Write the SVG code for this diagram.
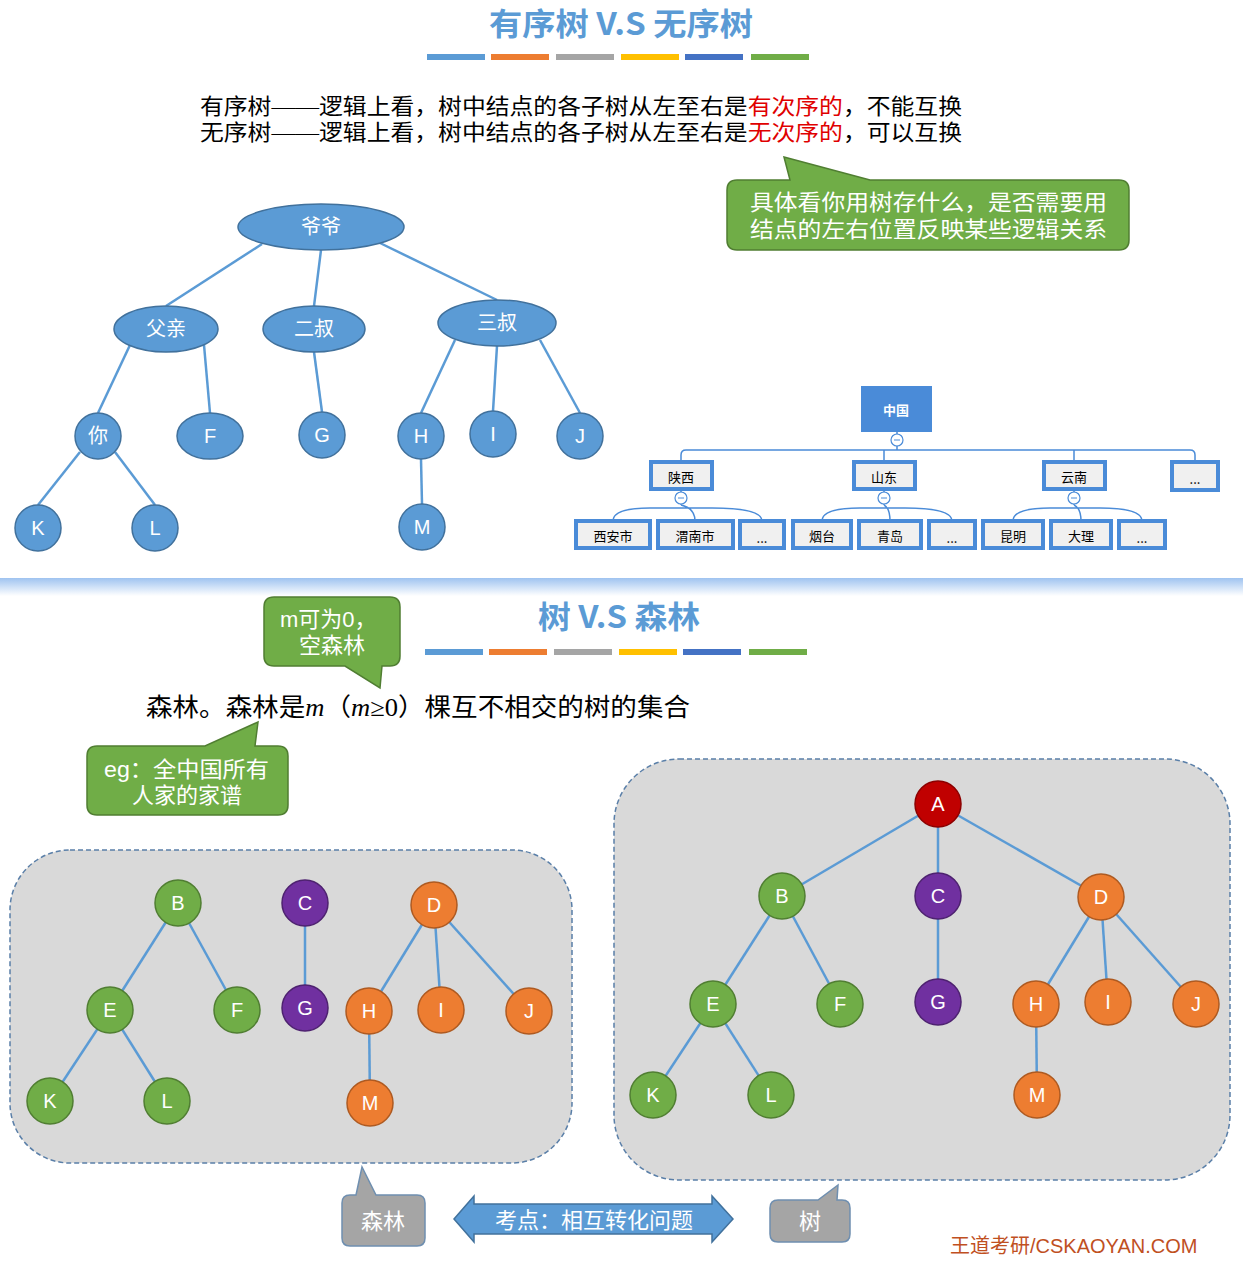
<svg xmlns="http://www.w3.org/2000/svg" width="1243" height="1264" viewBox="0 0 1243 1264">
<defs>
<linearGradient id="sep" x1="0" y1="0" x2="0" y2="1"><stop offset="0" stop-color="#9fc3f0"/><stop offset="1" stop-color="#ffffff"/></linearGradient>
<style>
.t{font-family:"Liberation Sans","Noto Sans CJK SC",sans-serif}
.s{font-family:"Liberation Serif","Noto Sans CJK SC",serif}
.title{font-family:"Noto Sans CJK SC",sans-serif;font-weight:bold;fill:#5b9bd5;font-size:31px;text-anchor:middle}
.e line{stroke:#5b9bd5;stroke-width:2.5}
.bn{fill:#5b9bd5;stroke:#41719c;stroke-width:1.5}
.gn{fill:#70ad47;stroke:#507e32;stroke-width:1.5}
.pn{fill:#7030a0;stroke:#4e2270;stroke-width:1.5}
.on{fill:#ed7d31;stroke:#ae5a21;stroke-width:1.5}
.rn{fill:#c00000;stroke:#8c0000;stroke-width:1.5}
.lb{font-family:"Liberation Sans","Noto Sans CJK SC",sans-serif;fill:#fff;font-size:20px;text-anchor:middle;dominant-baseline:central}
.box{fill:#f0f0f0;stroke:#4a8bd8;stroke-width:4}
.bt{font-family:"Noto Sans CJK SC",sans-serif;font-size:13px;text-anchor:middle;dominant-baseline:central;fill:#000}
.mc{fill:#fff;stroke:#4a8bd8;stroke-width:1.2}
.panel{fill:#d9d9d9;stroke:#5a7fa8;stroke-width:1.5;stroke-dasharray:5 3}
</style>
</defs>
<rect width="1243" height="1264" fill="#fff"/>
<text class="title" x="621" y="35" textLength="264" lengthAdjust="spacingAndGlyphs">有序树 V.S 无序树</text>
<g>
<rect x="427" y="54" width="58" height="6" fill="#5b9bd5"/><rect x="491" y="54" width="58" height="6" fill="#ed7d31"/><rect x="556" y="54" width="58" height="6" fill="#a5a5a5"/><rect x="621" y="54" width="58" height="6" fill="#ffc000"/><rect x="685" y="54" width="58" height="6" fill="#4472c4"/><rect x="751" y="54" width="58" height="6" fill="#70ad47"/>
</g>
<text class="s" x="200" y="114" font-size="22" textLength="762" lengthAdjust="spacingAndGlyphs">有序树——逻辑上看，树中结点的各子树从左至右是<tspan fill="#e00000">有次序的</tspan>，不能互换</text>
<text class="s" x="200" y="140" font-size="22" textLength="762" lengthAdjust="spacingAndGlyphs">无序树——逻辑上看，树中结点的各子树从左至右是<tspan fill="#e00000">无次序的</tspan>，可以互换</text>
<g id="callout1"><path d="M784,157 L870,180 L1119,180 Q1129,180 1129,190 L1129,240 Q1129,250 1119,250 L737,250 Q727,250 727,240 L727,190 Q727,180 737,180 L790,180 Z" fill="#70ad47" stroke="#507e32" stroke-width="1.5"/>
<text class="t" x="750" y="210" font-size="22" fill="#fff" textLength="357" lengthAdjust="spacingAndGlyphs">具体看你用树存什么，是否需要用</text>
<text class="t" x="750" y="237" font-size="22" fill="#fff" textLength="357" lengthAdjust="spacingAndGlyphs">结点的左右位置反映某些逻辑关系</text></g>
<g id="edges1" class="e">
<line x1="262" y1="244" x2="166" y2="306"/><line x1="321" y1="250" x2="314" y2="306"/><line x1="380" y1="243" x2="497" y2="300"/>
<line x1="130" y1="345" x2="98" y2="413"/><line x1="204" y1="345" x2="210" y2="413"/><line x1="314" y1="352" x2="322" y2="412"/>
<line x1="455" y1="340" x2="421" y2="413"/><line x1="497" y1="346" x2="493" y2="411"/><line x1="540" y1="340" x2="580" y2="413"/>
<line x1="80" y1="452" x2="38" y2="505"/><line x1="115" y1="452" x2="155" y2="505"/><line x1="421" y1="459" x2="422" y2="504"/>
</g>
<g id="n-yeye"><ellipse class="bn" cx="321" cy="227" rx="83" ry="23"/><text class="lb" x="321" y="227" font-size="22">爷爷</text></g>
<g id="n-fuqin"><ellipse class="bn" cx="166" cy="329" rx="52" ry="23"/><text class="lb" x="166" y="329" font-size="22">父亲</text></g>
<g id="n-ershu"><ellipse class="bn" cx="314" cy="329" rx="51" ry="23"/><text class="lb" x="314" y="329" font-size="22">二叔</text></g>
<g id="n-sanshu"><ellipse class="bn" cx="497" cy="323" rx="59" ry="23"/><text class="lb" x="497" y="323" font-size="22">三叔</text></g>
<g id="n-ni"><circle class="bn" cx="98" cy="436" r="23"/><text class="lb" x="98" y="436" font-size="22">你</text></g>
<g id="n-F1"><ellipse class="bn" cx="210" cy="436" rx="33" ry="23"/><text class="lb" x="210" y="436">F</text></g>
<g id="n-G1"><circle class="bn" cx="322" cy="435" r="23"/><text class="lb" x="322" y="435">G</text></g>
<g id="n-H1"><circle class="bn" cx="421" cy="436" r="23"/><text class="lb" x="421" y="436">H</text></g>
<g id="n-I1"><circle class="bn" cx="493" cy="434" r="23"/><text class="lb" x="493" y="434">I</text></g>
<g id="n-J1"><circle class="bn" cx="580" cy="436" r="23"/><text class="lb" x="580" y="436">J</text></g>
<g id="n-K1"><circle class="bn" cx="38" cy="528" r="23"/><text class="lb" x="38" y="528">K</text></g>
<g id="n-L1"><circle class="bn" cx="155" cy="528" r="23"/><text class="lb" x="155" y="528">L</text></g>
<g id="n-M1"><circle class="bn" cx="422" cy="527" r="23"/><text class="lb" x="422" y="527">M</text></g>

<g id="china-edges" fill="none" stroke="#4a8bd8" stroke-width="1.5">
<path d="M897,432 V450 M681,462 V455 Q681,450 686,450 H1190 Q1195,450 1195,455 V462 M884,450 V462 M1074,450 V462"/>
<path d="M681,489 V505 M613,521 Q613,508 650,508 H712 Q762,508 762,521 M681,505 Q695,508 695,521"/>
<path d="M884,489 V505 M822,521 Q822,508 860,508 H905 Q952,508 952,521 M884,505 Q890,508 890,521"/>
<path d="M1074,489 V505 M1013,521 Q1013,508 1050,508 H1100 Q1142,508 1142,521 M1074,505 Q1081,508 1081,521"/>
</g>
<g id="c-china"><rect x="861" y="386" width="71" height="46" fill="#4a8bd8"/><text class="bt" x="896" y="409" font-weight="bold" font-size="16" style="fill:#fff">中国</text></g>
<g id="minus"><circle class="mc" cx="897" cy="440" r="6"/><circle class="mc" cx="681" cy="498" r="6"/><circle class="mc" cx="884" cy="498" r="6"/><circle class="mc" cx="1074" cy="498" r="6"/>
<path d="M894,440h6M678,498h6M881,498h6M1071,498h6" stroke="#4a8bd8" stroke-width="1"/></g>
<g id="c-sx"><rect class="box" x="651" y="462" width="61" height="27"/><text class="bt" x="681" y="476">陕西</text></g>
<g id="c-sd"><rect class="box" x="854" y="462" width="61" height="27"/><text class="bt" x="884" y="476">山东</text></g>
<g id="c-yn"><rect class="box" x="1044" y="462" width="61" height="27"/><text class="bt" x="1074" y="476">云南</text></g>
<g id="c-more"><rect class="box" x="1172" y="462" width="46" height="28"/><text class="bt" x="1195" y="478">...</text></g>
<g id="c-xa"><rect class="box" x="576" y="521" width="74" height="27"/><text class="bt" x="613" y="535">西安市</text></g>
<g id="c-wn"><rect class="box" x="658" y="521" width="75" height="27"/><text class="bt" x="695" y="535">渭南市</text></g>
<g id="c-m1"><rect class="box" x="740" y="521" width="44" height="27"/><text class="bt" x="762" y="537">...</text></g>
<g id="c-yt"><rect class="box" x="793" y="521" width="58" height="27"/><text class="bt" x="822" y="535">烟台</text></g>
<g id="c-qd"><rect class="box" x="859" y="521" width="62" height="27"/><text class="bt" x="890" y="535">青岛</text></g>
<g id="c-m2"><rect class="box" x="929" y="521" width="46" height="27"/><text class="bt" x="952" y="537">...</text></g>
<g id="c-km"><rect class="box" x="983" y="521" width="60" height="27"/><text class="bt" x="1013" y="535">昆明</text></g>
<g id="c-dl"><rect class="box" x="1051" y="521" width="60" height="27"/><text class="bt" x="1081" y="535">大理</text></g>
<g id="c-m3"><rect class="box" x="1119" y="521" width="46" height="27"/><text class="bt" x="1142" y="537">...</text></g>

<rect x="0" y="578" width="1243" height="18" fill="url(#sep)"/>

<text class="title" x="619" y="628" textLength="162" lengthAdjust="spacingAndGlyphs">树 V.S 森林</text>
<g>
<rect x="425" y="649" width="58" height="6" fill="#5b9bd5"/><rect x="489" y="649" width="58" height="6" fill="#ed7d31"/><rect x="554" y="649" width="58" height="6" fill="#a5a5a5"/><rect x="619" y="649" width="58" height="6" fill="#ffc000"/><rect x="683" y="649" width="58" height="6" fill="#4472c4"/><rect x="749" y="649" width="58" height="6" fill="#70ad47"/>
</g>
<g id="callout-m"><path d="M274,597 H390 Q400,597 400,607 V656 Q400,666 390,666 H382 L380,688 L345,666 H274 Q264,666 264,656 V607 Q264,597 274,597 Z" fill="#70ad47" stroke="#507e32" stroke-width="1.5"/>
<text class="t" x="280" y="627" font-size="22" fill="#fff">m可为0，</text>
<text class="t" x="332" y="653" font-size="22" fill="#fff" text-anchor="middle">空森林</text></g>
<text class="s" x="146" y="716" font-size="25" textLength="544" lengthAdjust="spacingAndGlyphs">森林。森林是<tspan font-style="italic">m</tspan>（<tspan font-style="italic">m</tspan>≥0）棵互不相交的树的集合</text>
<g id="callout-eg"><path d="M97,746 H205 L258,722 L255,746 H278 Q288,746 288,756 V805 Q288,815 278,815 H97 Q87,815 87,805 V756 Q87,746 97,746 Z" fill="#70ad47" stroke="#507e32" stroke-width="1.5"/>
<text class="t" x="104" y="777" font-size="22" fill="#fff" textLength="165" lengthAdjust="spacingAndGlyphs">eg：全中国所有</text>
<text class="t" x="187" y="803" font-size="22" fill="#fff" text-anchor="middle">人家的家谱</text></g>

<rect class="panel" x="10" y="850" width="562" height="313" rx="60"/>
<rect class="panel" x="614" y="759" width="616" height="421" rx="65"/>
<g id="edges2" class="e">
<line x1="178" y1="903" x2="110" y2="1010"/><line x1="178" y1="903" x2="237" y2="1010"/>
<line x1="110" y1="1010" x2="50" y2="1101"/><line x1="110" y1="1010" x2="167" y2="1101"/>
<line x1="305" y1="903" x2="305" y2="1008"/>
<line x1="434" y1="905" x2="369" y2="1011"/><line x1="434" y1="905" x2="441" y2="1010"/><line x1="434" y1="905" x2="529" y2="1011"/>
<line x1="369" y1="1011" x2="370" y2="1103"/>
<line x1="938" y1="804" x2="782" y2="896"/><line x1="938" y1="804" x2="938" y2="896"/><line x1="938" y1="804" x2="1101" y2="897"/>
<line x1="782" y1="896" x2="713" y2="1004"/><line x1="782" y1="896" x2="840" y2="1004"/>
<line x1="713" y1="1004" x2="653" y2="1095"/><line x1="713" y1="1004" x2="771" y2="1095"/>
<line x1="938" y1="896" x2="938" y2="1002"/>
<line x1="1101" y1="897" x2="1036" y2="1004"/><line x1="1101" y1="897" x2="1108" y2="1002"/><line x1="1101" y1="897" x2="1196" y2="1004"/>
<line x1="1036" y1="1004" x2="1037" y2="1095"/>
</g>
<g id="f-B"><circle class="gn" cx="178" cy="903" r="23"/><text class="lb" x="178" y="903">B</text></g>
<g id="f-E"><circle class="gn" cx="110" cy="1010" r="23"/><text class="lb" x="110" y="1010">E</text></g>
<g id="f-F"><circle class="gn" cx="237" cy="1010" r="23"/><text class="lb" x="237" y="1010">F</text></g>
<g id="f-K"><circle class="gn" cx="50" cy="1101" r="23"/><text class="lb" x="50" y="1101">K</text></g>
<g id="f-L"><circle class="gn" cx="167" cy="1101" r="23"/><text class="lb" x="167" y="1101">L</text></g>
<g id="f-C"><circle class="pn" cx="305" cy="903" r="23"/><text class="lb" x="305" y="903">C</text></g>
<g id="f-G"><circle class="pn" cx="305" cy="1008" r="23"/><text class="lb" x="305" y="1008">G</text></g>
<g id="f-D"><circle class="on" cx="434" cy="905" r="23"/><text class="lb" x="434" y="905">D</text></g>
<g id="f-H"><circle class="on" cx="369" cy="1011" r="23"/><text class="lb" x="369" y="1011">H</text></g>
<g id="f-I"><circle class="on" cx="441" cy="1010" r="23"/><text class="lb" x="441" y="1010">I</text></g>
<g id="f-J"><circle class="on" cx="529" cy="1011" r="23"/><text class="lb" x="529" y="1011">J</text></g>
<g id="f-M"><circle class="on" cx="370" cy="1103" r="23"/><text class="lb" x="370" y="1103">M</text></g>
<g id="t-A"><circle class="rn" cx="938" cy="804" r="23"/><text class="lb" x="938" y="804">A</text></g>
<g id="t-B"><circle class="gn" cx="782" cy="896" r="23"/><text class="lb" x="782" y="896">B</text></g>
<g id="t-C"><circle class="pn" cx="938" cy="896" r="23"/><text class="lb" x="938" y="896">C</text></g>
<g id="t-D"><circle class="on" cx="1101" cy="897" r="23"/><text class="lb" x="1101" y="897">D</text></g>
<g id="t-E"><circle class="gn" cx="713" cy="1004" r="23"/><text class="lb" x="713" y="1004">E</text></g>
<g id="t-F"><circle class="gn" cx="840" cy="1004" r="23"/><text class="lb" x="840" y="1004">F</text></g>
<g id="t-G"><circle class="pn" cx="938" cy="1002" r="23"/><text class="lb" x="938" y="1002">G</text></g>
<g id="t-H"><circle class="on" cx="1036" cy="1004" r="23"/><text class="lb" x="1036" y="1004">H</text></g>
<g id="t-I"><circle class="on" cx="1108" cy="1002" r="23"/><text class="lb" x="1108" y="1002">I</text></g>
<g id="t-J"><circle class="on" cx="1196" cy="1004" r="23"/><text class="lb" x="1196" y="1004">J</text></g>
<g id="t-K"><circle class="gn" cx="653" cy="1095" r="23"/><text class="lb" x="653" y="1095">K</text></g>
<g id="t-L"><circle class="gn" cx="771" cy="1095" r="23"/><text class="lb" x="771" y="1095">L</text></g>
<g id="t-M"><circle class="on" cx="1037" cy="1095" r="23"/><text class="lb" x="1037" y="1095">M</text></g>

<g id="callout-senlin"><path d="M350,1195 H356 L362,1167 L376,1195 H417 Q425,1195 425,1203 V1238 Q425,1246 417,1246 H350 Q342,1246 342,1238 V1203 Q342,1195 350,1195 Z" fill="#a5a5a5" stroke="#6f8fb0" stroke-width="1.5"/>
<text class="t" x="383" y="1229" font-size="22" fill="#fff" text-anchor="middle">森林</text></g>
<g id="arrow-kd"><path d="M454,1219 L474,1196 V1204 H712 V1196 L733,1219 L712,1242 V1234 H474 V1242 Z" fill="#5b9bd5" stroke="#41719c" stroke-width="1.5"/>
<text class="t" x="594" y="1228" font-size="22" fill="#fff" text-anchor="middle">考点：相互转化问题</text></g>
<g id="callout-shu"><path d="M778,1200 H818 L838,1185 L837,1200 H842 Q850,1200 850,1208 V1234 Q850,1242 842,1242 H778 Q770,1242 770,1234 V1208 Q770,1200 778,1200 Z" fill="#a5a5a5" stroke="#6f8fb0" stroke-width="1.5"/>
<text class="t" x="810" y="1229" font-size="22" fill="#fff" text-anchor="middle">树</text></g>
<text class="t" x="950" y="1253" font-size="20" fill="#c0501f">王道考研/CSKAOYAN.COM</text>
</svg>
